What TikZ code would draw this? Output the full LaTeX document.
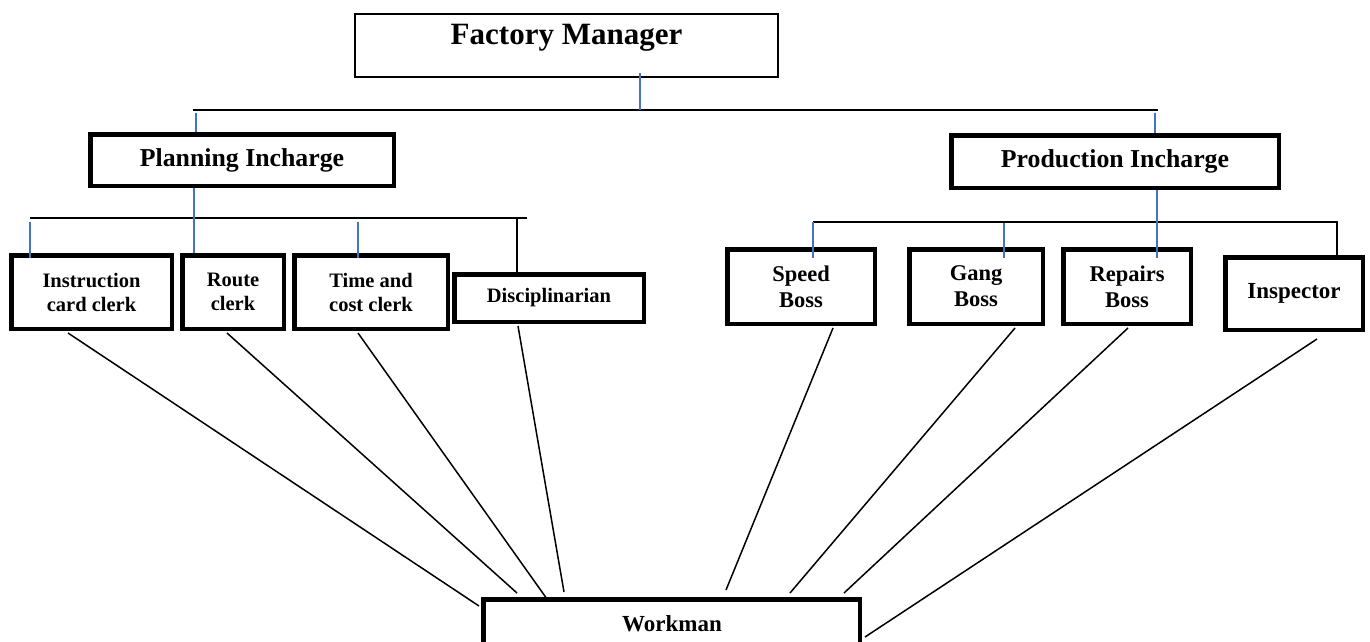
\documentclass[tikz,border=0pt]{standalone}
\usepackage{fontspec}
\setmainfont{Liberation Serif}
\definecolor{stubblue}{RGB}{68,114,196}
\begin{document}
\begin{tikzpicture}[x=1pt,y=-1pt,
  box/.style={draw=black, line width=4.5pt, inner sep=0pt, align=center, fill=white},
  thinbox/.style={draw=black, line width=2pt, inner sep=0pt},
  bus/.style={draw=black, line width=2pt},
  thinbus/.style={draw=black, line width=1.4pt},
  blueline/.style={draw=stubblue, line width=1.6pt},
  link/.style={draw=black, line width=1.5pt},
  bigfont/.style={font=\bfseries\fontsize{31}{37}\selectfont},
  midfont/.style={font=\bfseries\fontsize{25.8}{30}\selectfont},
  clerkfont/.style={font=\bfseries\fontsize{20.5}{24}\selectfont},
  bossfont/.style={font=\bfseries\fontsize{22.5}{26}\selectfont}]
\useasboundingbox (0,0) rectangle (1370,642);
\fill[white] (0,0) rectangle (1370,642);
\clip (0,0) rectangle (1370,642);

% Factory manager
\node[thinbox, minimum width=423pt, minimum height=63pt] (fm) at (566.5,45.5) {};
\node[bigfont, anchor=base, inner sep=0pt] (fmt) at (566.5,45) {Factory Manager};

% Incharges
\node[box, midfont, minimum width=303.5pt, minimum height=51.5pt] (pi) at (242,160) {Planning Incharge};
\node[box, midfont, minimum width=327.5pt, minimum height=52.5pt] (pr) at (1115,161.5) {Production Incharge};

% Planning side
\node[box, clerkfont, minimum width=160.5pt, minimum height=73.5pt] (ic) at (91.5,292) {Instruction\\card clerk};
\node[box, clerkfont, minimum width=101.5pt, minimum height=73.5pt] (rc) at (233,292) {Route\\clerk};
\node[box, clerkfont, minimum width=153.5pt, minimum height=73.5pt] (tc) at (371,292) {Time and\\cost clerk};
\node[box, clerkfont, minimum width=189.5pt, minimum height=47.5pt] (di) at (549,298) {Disciplinarian};

% Production side
\node[box, bossfont, minimum width=147.5pt, minimum height=74.5pt] (sb) at (801,286.5) {Speed\\Boss};
\node[box, bossfont, minimum width=133.5pt, minimum height=74.5pt] (gb) at (976,286.5) {Gang\\Boss};
\node[box, bossfont, minimum width=127.5pt, minimum height=74.5pt] (rb) at (1127,286.5) {Repairs\\Boss};
\node[box, font=\bfseries\fontsize{23}{27}\selectfont, minimum width=137.5pt, minimum height=72.5pt] (in) at (1294,293.5) {Inspector};

% Workman
\node[box, minimum width=376.5pt, minimum height=80pt] (wk) at (671.5,639.25) {};
\node[font=\bfseries\fontsize{23}{27}\selectfont, anchor=base, inner sep=0pt] (wkt) at (672,631) {Workman};

% junction coordinates
\coordinate (tbL) at (193,109.5);
\coordinate (tbR) at (1158,109.5);
\coordinate (fmj) at (640,109.5);
\coordinate (pij) at (196,109.5);
\coordinate (prj) at (1155,109.5);
\coordinate (lbL) at (30,218);
\coordinate (lbR) at (527,218);
\coordinate (rcj) at (194,218);
\coordinate (tcj) at (358,218);
\coordinate (dij) at (517,218);
\coordinate (rbL) at (813,222);
\coordinate (rbR) at (1337,222);
\coordinate (gbj) at (1004,222);
\coordinate (rpj) at (1157,222);

% top level
\draw[bus] (tbL) -- (tbR);
\draw[blueline] ([yshift=5pt]fm.south -| fmj) -- (fmj);
\draw[blueline] ([yshift=-3pt]pij) -- (pi.north -| pij);
\draw[blueline] ([yshift=-3pt]prj) -- (pr.north -| prj);

% planning bus
\draw[bus] (lbL) -- (lbR);
\draw[blueline] ([yshift=-4pt]lbL) -- ([yshift=-5pt]ic.north -| lbL);
\draw[blueline] (pi.south -| rcj) -- (rc.north -| rcj);
\draw[blueline] ([yshift=-4pt]tcj) -- ([yshift=-5pt]tc.north -| tcj);
\draw[bus] (dij) -- (di.north -| dij);

% production bus
\draw[thinbus] (rbL) -- (rbR) -- (in.north -| rbR);
\draw[blueline] (rbL) -- ([yshift=-11pt]sb.north -| rbL);
\draw[blueline] ([yshift=-1pt]gbj) -- ([yshift=-11pt]gb.north -| gbj);
\draw[blueline] (pr.south -| rpj) -- ([yshift=-11pt]rb.north -| rpj);

% links to workman
\draw[link] ([xshift=-23.5pt,yshift=-2pt]ic.south) -- ([xshift=-2pt,yshift=-9pt]wk.north west);
\draw[link] ([xshift=-6pt,yshift=-2pt]rc.south) -- ([xshift=-154.5pt,yshift=4pt]wk.north);
\draw[link] ([xshift=-13pt,yshift=-2pt]tc.south) -- ([xshift=-124.5pt,yshift=-2pt]wk.north);
\draw[link] ([xshift=-31pt,yshift=-2pt]di.south) -- ([xshift=-107.5pt,yshift=5pt]wk.north);
\draw[link] ([xshift=32pt,yshift=-2pt]sb.south) -- ([xshift=54.5pt,yshift=7pt]wk.north);
\draw[link] ([xshift=39pt,yshift=-2pt]gb.south) -- ([xshift=118.5pt,yshift=4pt]wk.north);
\draw[link] ([xshift=1pt,yshift=-2pt]rb.south) -- ([xshift=172.5pt,yshift=4pt]wk.north);
\draw[link] ([xshift=23pt,yshift=-7pt]in.south) -- ([xshift=3pt,yshift=-40pt]wk.north east);
\end{tikzpicture}
\end{document}
